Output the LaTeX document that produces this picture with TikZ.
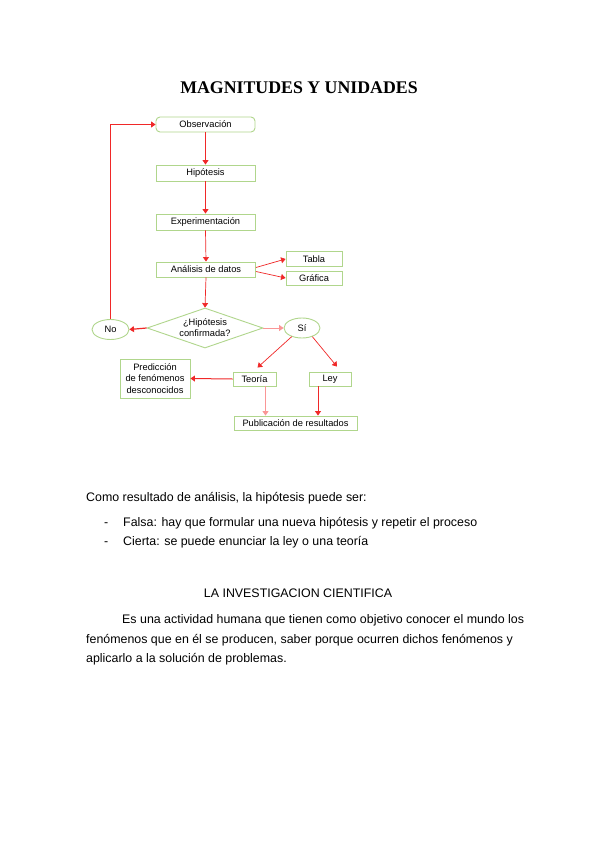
\documentclass[tikz,border=0pt]{standalone}
\usepackage{fontspec}
\setmainfont{Liberation Sans}
\newfontfamily\titlefont{Liberation Serif}
\usetikzlibrary{shapes.geometric,arrows.meta,calc}
\definecolor{boxgreen}{RGB}{176,214,140}
\definecolor{arrred}{RGB}{240,40,40}
\definecolor{arrpink}{RGB}{250,150,150}
\tikzset{
  box/.style={draw=boxgreen,line width=0.9pt,fill=white,inner sep=1pt,align=center,font=\fontsize{9.3}{10}\selectfont},
  ell/.style={box,ellipse},
  link/.style={draw=arrred,line width=0.7pt,-{Triangle[width=6pt,length=4.5pt]}},
  faint/.style={link,draw=arrpink},
  body/.style={anchor=base west,inner sep=0,font=\fontsize{12.4}{14}\selectfont}
}
\begin{document}
\begin{tikzpicture}[x=1pt,y=-1pt]
\useasboundingbox[fill=white] (0,0) rectangle (599,848);
\node[inner sep=0,font=\titlefont\bfseries\fontsize{17.8}{19}\selectfont] (title) at (299,88) {MAGNITUDES Y UNIDADES};

\node[box,rounded corners=4pt,minimum width=99pt,minimum height=15pt] (obs) at (205.5,124.5) {Observación};
\node[box,minimum width=99pt,minimum height=16pt] (hip) at (205.5,173) {Hipótesis};
\node[box,minimum width=99pt,minimum height=16pt] (exp) at (205.5,222) {Experimentación};
\node[box,minimum width=99pt,minimum height=15pt] (ana) at (206,269.5) {Análisis de datos};
\node[box,minimum width=56pt,minimum height=15pt] (tab) at (314,259) {Tabla};
\node[box,minimum width=56pt,minimum height=14pt] (gra) at (314,278) {Gráfica};
\node[box,diamond,aspect=2.9,minimum width=116pt,minimum height=40pt,inner sep=0pt,font=\fontsize{9.3}{11}\selectfont] (dia) at (205,328) {¿Hipótesis\\confirmada?};
\node[ell,minimum width=37pt,minimum height=20pt] (no) at (110.5,329.5) {No};
\node[ell,minimum width=36pt,minimum height=20pt] (si) at (302,328) {Sí};
\node[box,minimum width=43pt,minimum height=14pt] (teo) at (254.5,379) {Teoría};
\node[box,minimum width=42pt,minimum height=14pt] (ley) at (330,379) {Ley};
\node[box,minimum width=70pt,minimum height=39pt,font=\fontsize{9.3}{11.5}\selectfont] (pred) at (155,378.5) {Predicción\\de fenómenos\\desconocidos};
\node[box,minimum width=123pt,minimum height=14pt] (pub) at (295.5,423) {Publicación de resultados};

\draw[link] (obs.south) -- (hip.north);
\draw[link] (hip.south) -- (exp.north);
\draw[link] (exp.south) -- (ana.north);
\draw[link] (ana.south) -- (dia.north);
\draw[link] ([yshift=2pt]ana.east) -- (tab.west);
\draw[link] ([yshift=-2pt]ana.east) -- (gra.west);
\draw[link,line width=1.2pt] (dia.west) -- (no.east);
\draw[faint] (dia.east) -- (si.west);
\draw[link] (no.north) |- (obs.west);
\draw[link] (si.220) -- ([xshift=3pt,yshift=4pt]teo.north);
\draw[link] (si.-40) -- ([xshift=7pt,yshift=5pt]ley.north);
\draw[link,line width=1pt] (teo.west) -- (pred.east);
\draw[faint] ([xshift=11pt]teo.south) -- ([xshift=11pt]teo.south |- pub.north);
\draw[link] ([xshift=-12pt]ley.south) -- ([xshift=-12pt]ley.south |- pub.north);

\node[body] (t1) at (86,501) {Como resultado de análisis, la hipótesis puede ser:};
\node[body] (d1) at (104,526) {-};
\node[body] (t2) at (123,526) {Falsa: hay que formular una nueva hipótesis y repetir el proceso};
\node[body] (d2) at (104,545) {-};
\node[body] (t3) at (123,545) {Cierta: se puede enunciar la ley o una teoría};
\node[body,anchor=base] (h2) at (298,597) {LA INVESTIGACION CIENTIFICA};
\node[body] (p1) at (122,623) {Es una actividad humana que tienen como objetivo conocer el mundo los};
\node[body] (p2) at (86,643) {fenómenos que en él se producen, saber porque ocurren dichos fenómenos y};
\node[body] (p3) at (86,662) {aplicarlo a la solución de problemas.};
\end{tikzpicture}
\end{document}
